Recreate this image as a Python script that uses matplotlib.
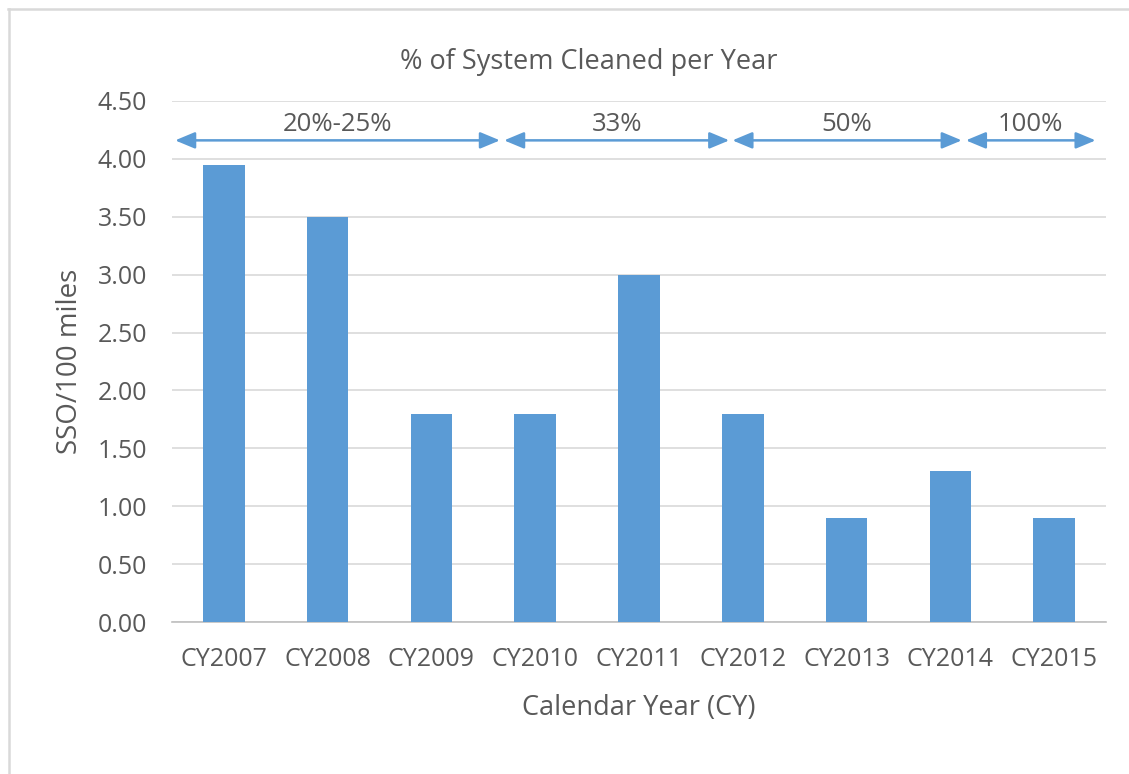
import matplotlib
matplotlib.use("Agg")
import matplotlib.pyplot as plt
from matplotlib.lines import Line2D

categories = ["CY2007", "CY2008", "CY2009", "CY2010", "CY2011", "CY2012", "CY2013", "CY2014", "CY2015"]
values = [3.95, 3.50, 1.80, 1.80, 3.00, 1.80, 0.90, 1.30, 0.90]
yticks = [0.0, 0.5, 1.0, 1.5, 2.0, 2.5, 3.0, 3.5, 4.0, 4.5]
period_labels = ["20%-25%", "33%", "50%", "100%"]
period_starts = [-0.47, 2.70, 4.90, 7.15]
period_ends = [2.66, 4.87, 7.11, 8.40]

plt.rcParams['font.family'] = ['Open Sans', 'DejaVu Sans']
W, H = 1129, 774
fig = plt.figure(figsize=(W / 100, H / 100), dpi=100)
ax = fig.add_axes([172 / W, 1 - 622 / H, (1106 - 172) / W, (622 - 101) / H])

blue = "#5b9bd5"
txt = "#595959"
x = list(range(len(categories)))
ax.bar(x, values, width=0.4, color=blue, zorder=3)
ax.set_xlim(-0.5, len(categories) - 0.5)
ax.set_ylim(0, 4.5)
ax.set_yticks(yticks)
ax.set_yticklabels([f"{v:.2f}" for v in yticks])
ax.set_xticks(x)
ax.set_xticklabels(categories)
ax.tick_params(axis='both', length=0, colors=txt, labelsize=18)
ax.tick_params(axis='x', pad=18)
ax.tick_params(axis='y', pad=18)
ax.grid(axis='y', color="#d9d9d9", linewidth=1.2, zorder=0)
for s in ["left", "right", "top"]:
    ax.spines[s].set_visible(False)
ax.spines["bottom"].set_color("#bfbfbf")
ax.spines["bottom"].set_linewidth(1.2)

ax.set_ylabel("SSO/100 miles", fontsize=20, color=txt, labelpad=10)
ax.set_xlabel("Calendar Year (CY)", fontsize=19.5, color=txt, labelpad=16)
fig.text(589 / W, 1 - 62 / H, "% of System Cleaned per Year", ha='center', va='center',
         fontsize=19.5, color=txt)

for lab, s, e in zip(period_labels, period_starts, period_ends):
    ax.annotate("", xy=(e, 4.16), xytext=(s, 4.16),
                arrowprops=dict(arrowstyle="<|-|>,head_length=1.2,head_width=0.5",
                                color=blue, lw=1.8, shrinkA=0, shrinkB=0), zorder=4)
    ax.text((s + e) / 2, 4.30, lab, ha='center', va='center', fontsize=18.5, color=txt, zorder=4)

fig.lines.append(Line2D([8 / W, 1], [1 - 8.5 / H, 1 - 8.5 / H], transform=fig.transFigure,
                        color="#d9d9d9", linewidth=1.8))
fig.lines.append(Line2D([8.5 / W, 8.5 / W], [0, 1 - 8.5 / H], transform=fig.transFigure,
                        color="#d9d9d9", linewidth=1.8))

fig.savefig("out.png", dpi=100)
